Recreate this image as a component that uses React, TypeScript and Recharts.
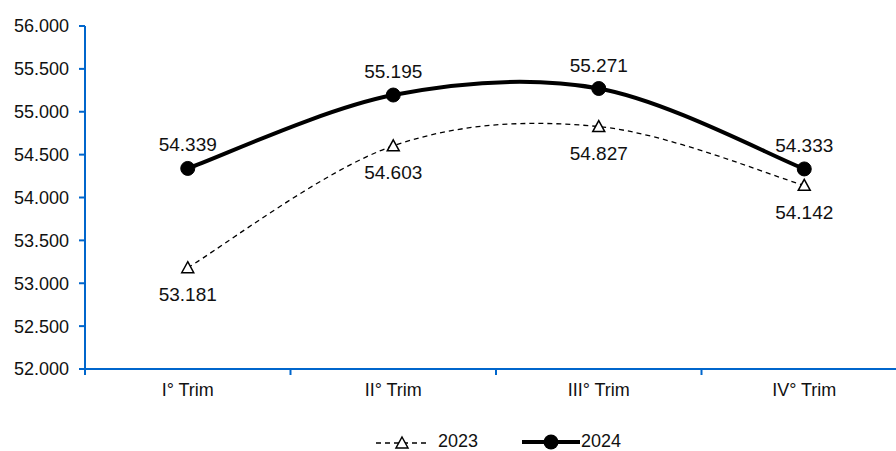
import React from 'react';
import {
  LineChart,
  Line,
  XAxis,
  YAxis,
  LabelList,
  Legend,
} from 'recharts';

const QUARTERS = ['I° Trim', 'II° Trim', 'III° Trim', 'IV° Trim'];
const VALUES_2023 = [53181, 54603, 54827, 54142];
const VALUES_2024 = [54339, 55195, 55271, 54333];
const Y_TICKS = [52000, 52500, 53000, 53500, 54000, 54500, 55000, 55500, 56000];

const AXIS_BLUE = '#0066CC';
const FONT = 'Arial, "Liberation Sans", sans-serif';

// quarter i sits in the middle of band [i, i+1]
const data = QUARTERS.map((q, i) => ({
  pos: i + 0.5,
  quarter: q,
  y2023: VALUES_2023[i],
  y2024: VALUES_2024[i],
}));

// tick positions: band edges (tick marks) + band centers (labels)
const X_TICKS = [0, 0.5, 1, 1.5, 2, 2.5, 3, 3.5, 4];

// 1234567 -> 1.234.567
const fmt = (v: any) => String(v).replace(/\B(?=(\d{3})+(?!\d))/g, '.');

// Excel-like smoothed line (Catmull-Rom as bezier)
const excelCurve = (ctx: any) => {
  let pts: [number, number][] = [];
  return {
    areaStart() {},
    areaEnd() {},
    lineStart() {
      pts = [];
    },
    lineEnd() {
      if (!pts.length) return;
      ctx.moveTo(pts[0][0], pts[0][1]);
      for (let i = 0; i < pts.length - 1; i++) {
        const p0 = pts[Math.max(i - 1, 0)];
        const p1 = pts[i];
        const p2 = pts[i + 1];
        const p3 = pts[Math.min(i + 2, pts.length - 1)];
        ctx.bezierCurveTo(
          p1[0] + (p2[0] - p0[0]) / 6,
          p1[1] + (p2[1] - p0[1]) / 6,
          p2[0] - (p3[0] - p1[0]) / 6,
          p2[1] - (p3[1] - p1[1]) / 6,
          p2[0],
          p2[1],
        );
      }
    },
    point(x: number, y: number) {
      pts.push([+x, +y]);
    },
  };
};

const XTick = (props: any) => {
  const { x, y, payload } = props;
  const v = payload.value;
  if (Number.isInteger(v)) {
    // band edge: small tick mark under the axis
    return <line x1={x} x2={x} y1={y - 14} y2={y - 8} stroke={AXIS_BLUE} strokeWidth={2} />;
  }
  const label = QUARTERS[Math.floor(v)];
  return (
    <text x={x} y={y} dy="0.71em" textAnchor="middle" fill="#111" fontSize={18} fontFamily={FONT}>
      {label}
    </text>
  );
};

const Triangle = (props: any) => {
  const { cx, cy } = props;
  if (cx == null || cy == null) return null;
  return (
    <path
      d={`M${cx},${cy - 6} L${cx + 6},${cy + 5} L${cx - 6},${cy + 5} Z`}
      fill="#fff"
      stroke="#000"
      strokeWidth={1.5}
    />
  );
};

const LegendContent = () => (
  <div
    style={{
      display: 'flex',
      alignItems: 'center',
      fontFamily: FONT,
      fontSize: 18,
      color: '#111',
    }}
  >
    <svg width={52} height={16} style={{ marginRight: 10 }}>
      <line x1={0} x2={52} y1={9} y2={9} stroke="#000" strokeWidth={1.3} strokeDasharray="5 4" />
      <path d="M26,3 L32,14 L20,14 Z" fill="#fff" stroke="#000" strokeWidth={1.5} />
    </svg>
    <span style={{ marginRight: 44 }}>2023</span>
    <svg width={58} height={18} style={{ marginRight: 1 }}>
      <line x1={0} x2={58} y1={9} y2={9} stroke="#000" strokeWidth={4} />
      <circle cx={29} cy={9} r={7.5} fill="#000" />
    </svg>
    <span>2024</span>
  </div>
);

const App: React.FC = () => {
  return (
    <div
      style={{
        position: 'absolute',
        left: 0,
        top: 0,
        width: 896,
        height: 451,
        overflow: 'hidden',
        background: '#fff',
      }}
    >
      <LineChart
        width={907}
        height={451}
        data={data}
        margin={{ top: 26, right: 0, left: 0, bottom: 0 }}
      >
        <XAxis
          dataKey="pos"
          type="number"
          domain={[0, 4]}
          ticks={X_TICKS}
          interval={0}
          tick={<XTick />}
          tickLine={false}
          tickSize={0}
          tickMargin={14}
          height={82}
          stroke={AXIS_BLUE}
          strokeWidth={2}
        />
        <YAxis
          domain={[52000, 56000]}
          ticks={Y_TICKS}
          interval={0}
          width={85}
          tickFormatter={fmt}
          tick={{ fill: '#111', fontSize: 18, fontFamily: FONT }}
          tickSize={6}
          tickMargin={10}
          stroke={AXIS_BLUE}
          strokeWidth={2}
          tickLine={{ stroke: AXIS_BLUE, strokeWidth: 2 }}
        />
        <Legend
          layout="vertical"
          verticalAlign="middle"
          align="center"
          content={<LegendContent />}
          wrapperStyle={{ top: 431, left: 376, width: 300, height: 22 }}
        />
        <Line
          dataKey="y2023"
          name="2023"
          type={excelCurve as any}
          stroke="#000"
          strokeWidth={1.3}
          strokeDasharray="5 4"
          dot={<Triangle />}
          activeDot={false}
          isAnimationActive={false}
        >
          <LabelList
            dataKey="y2023"
            position="bottom"
            offset={20}
            formatter={fmt}
            fill="#111"
            fontSize={19}
            fontFamily={FONT}
          />
        </Line>
        <Line
          dataKey="y2024"
          name="2024"
          type={excelCurve as any}
          stroke="#000"
          strokeWidth={4}
          dot={{ r: 7, fill: '#000', stroke: '#000', strokeWidth: 1 }}
          activeDot={false}
          isAnimationActive={false}
        >
          <LabelList
            dataKey="y2024"
            position="top"
            offset={17}
            formatter={fmt}
            fill="#111"
            fontSize={19}
            fontFamily={FONT}
          />
        </Line>
      </LineChart>
    </div>
  );
};

export default App;
